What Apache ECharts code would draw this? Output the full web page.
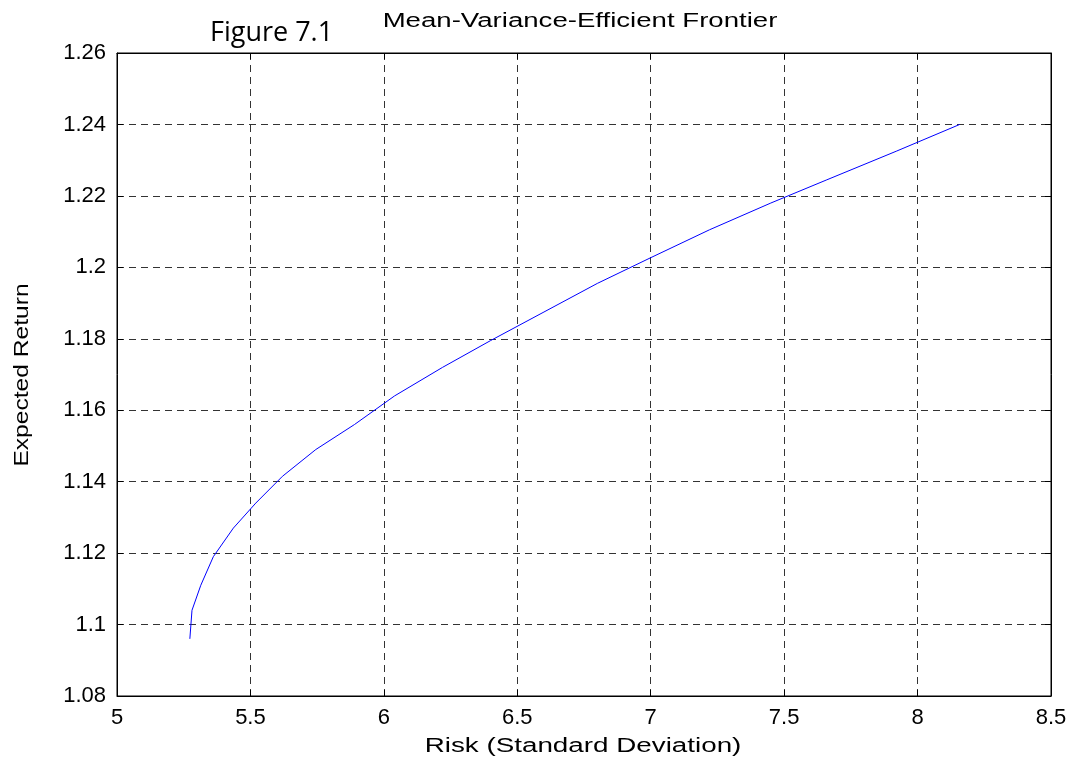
<!DOCTYPE html>
<html>
<head>
<meta charset="utf-8">
<script src="https://cdn.jsdelivr.net/npm/echarts@6/dist/echarts.min.js"></script>
<style>html,body{margin:0;padding:0;background:#fff}#c{width:1074px;height:762px}</style>
</head>
<body>
<div id="c"></div>
<script>
const risk = [5.273, 5.281, 5.314, 5.361, 5.436, 5.52, 5.62, 5.745, 5.89, 6.04, 6.22, 6.40, 6.60, 6.80, 7.00, 7.22, 7.45, 7.66, 7.92, 8.158];
const ret  = [1.096, 1.104, 1.111, 1.119, 1.127, 1.134, 1.1415, 1.149, 1.156, 1.164, 1.172, 1.1795, 1.1875, 1.1955, 1.2027, 1.2105, 1.218, 1.2245, 1.2325, 1.240];
const xTicks = {min: 5, max: 8.5, interval: 0.5};
const yTicks = {min: 1.08, max: 1.26, interval: 0.02};
const figLabel = 'Figure 7.1';
const titleText = 'Mean-Variance-Efficient Frontier';
const xName = 'Risk (Standard Deviation)';
const yName = 'Expected Return';

const font = "'Liberation Sans', Arial, sans-serif";
const chart = echarts.init(document.getElementById('c'));
const gridSplit = {show: true, lineStyle: {color: '#000', type: [7, 5], width: 1, opacity: 0.8}};
const tick = {show: true, inside: true, length: 6, lineStyle: {color: '#000'}};
chart.setOption({
  animation: false,
  backgroundColor: '#fff',
  graphic: [
    {type: 'text', left: 210, top: 20, style: {text: figLabel, font: "27px 'Open Sans', 'Noto Sans', sans-serif", fill: '#000'}},
    {type: 'text', x: 580, y: 21, scaleX: 1.38, style: {text: titleText, font: '20px ' + font, fill: '#000', textAlign: 'center', textVerticalAlign: 'middle'}},
    {type: 'text', x: 583, y: 746, scaleX: 1.39, style: {text: xName, font: '20px ' + font, fill: '#000', textAlign: 'center', textVerticalAlign: 'middle'}},
    {type: 'text', x: 22, y: 375, rotation: Math.PI / 2, scaleX: 1.23, style: {text: yName, font: '20px ' + font, fill: '#000', textAlign: 'center', textVerticalAlign: 'middle'}}
  ],
  grid: {left: 117, right: 23, top: 53, bottom: 66, show: true, borderColor: '#000', borderWidth: 1},
  xAxis: [{
    type: 'value', min: xTicks.min, max: xTicks.max, interval: xTicks.interval,
    axisLine: {show: true, lineStyle: {color: '#000'}},
    axisTick: tick,
    axisLabel: {fontFamily: font, fontSize: 22, color: '#000', margin: 11},
    splitLine: gridSplit
  }, {
    type: 'value', position: 'top', min: xTicks.min, max: xTicks.max, interval: xTicks.interval,
    axisLine: {show: true, lineStyle: {color: '#000'}},
    axisTick: tick, axisLabel: {show: false}, splitLine: {show: false}
  }],
  yAxis: [{
    type: 'value', min: yTicks.min, max: yTicks.max, interval: yTicks.interval,
    axisLine: {show: true, lineStyle: {color: '#000'}},
    axisTick: tick,
    axisLabel: {fontFamily: font, fontSize: 22, color: '#000', margin: 11},
    splitLine: gridSplit
  }, {
    type: 'value', position: 'right', min: yTicks.min, max: yTicks.max, interval: yTicks.interval,
    axisLine: {show: true, lineStyle: {color: '#000'}},
    axisTick: tick, axisLabel: {show: false}, splitLine: {show: false}
  }],
  series: [{
    type: 'line',
    data: risk.map((r, i) => [r, ret[i]]),
    showSymbol: false,
    lineStyle: {color: '#0000ff', width: 1},
    itemStyle: {color: '#0000ff'}
  }]
});
</script>
</body>
</html>
